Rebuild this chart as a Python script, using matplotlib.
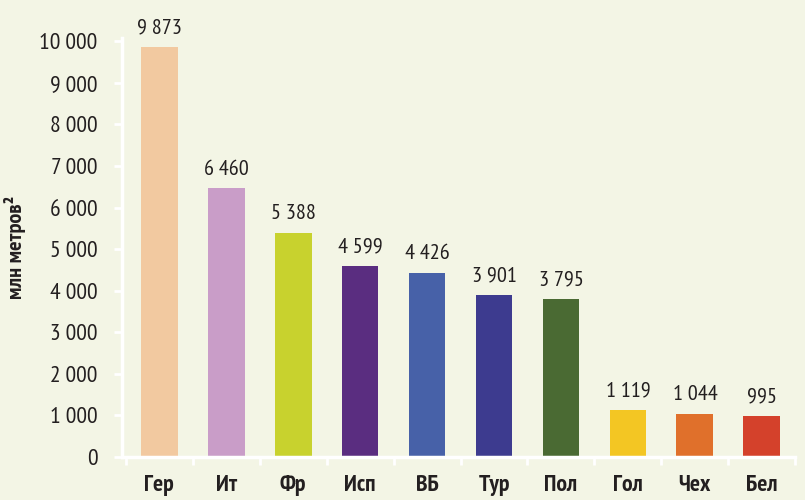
import matplotlib
matplotlib.use("Agg")
import matplotlib.pyplot as plt
from matplotlib.ticker import FixedLocator, FuncFormatter

countries = ["Гер", "Ит", "Фр", "Исп", "ВБ", "Тур", "Пол", "Гол", "Чех", "Бел"]
values = [9873, 6460, 5388, 4599, 4426, 3901, 3795, 1119, 1044, 995]
colors = ["#f2c9a0", "#c99dc8", "#c8d22e", "#5a2d80", "#4761a8",
          "#3d3b8f", "#4a6a33", "#f3c623", "#e0702b", "#d4412b"]
y_ticks = list(range(0, 10001, 1000))

bg = "#f3f5e5"
ink = "#231f20"

def fmt(v):
    return f"{int(v):,}".replace(",", " ")

plt.rcParams['font.family'] = ['PT Sans Narrow', 'DejaVu Sans']

fig = plt.figure(figsize=(8.05, 5.0), dpi=100, facecolor=bg)
ax = fig.add_axes([0.152, 0.086, 0.836, 0.838])
ax.set_facecolor(bg)

x = list(range(len(countries)))
ax.bar(x, values, width=0.55, color=colors)

for xi, v in zip(x, values):
    ax.annotate(fmt(v), (xi, v), xytext=(0, 7), textcoords="offset points",
                ha="center", va="bottom", fontsize=16, color=ink)

ax.set_xlim(-0.55, 9.5)
ax.set_ylim(0, 10080)
ax.set_yticks(y_ticks)
ax.yaxis.set_major_formatter(FuncFormatter(lambda v, p: fmt(v)))
ax.set_xticks(x)
ax.set_xticklabels(countries, fontsize=17, fontweight="bold", color=ink)
ax.xaxis.set_minor_locator(FixedLocator([i + 0.5 for i in range(-1, 10)]))

ax.tick_params(axis="y", colors="white", labelcolor=ink, labelsize=17,
               length=6, width=2, pad=12)
ax.tick_params(axis="x", which="major", length=0, pad=13)
ax.tick_params(axis="x", which="minor", colors="white", length=6, width=2)

for s in ["top", "right"]:
    ax.spines[s].set_visible(False)
for s in ["left", "bottom"]:
    ax.spines[s].set_color("white")
    ax.spines[s].set_linewidth(2.5)

ax.set_ylabel("млн метров²", fontsize=16, fontweight="bold", color=ink)
ax.yaxis.set_label_coords(-0.143, 0.5)

fig.savefig("out.png", dpi=100, facecolor=bg)
